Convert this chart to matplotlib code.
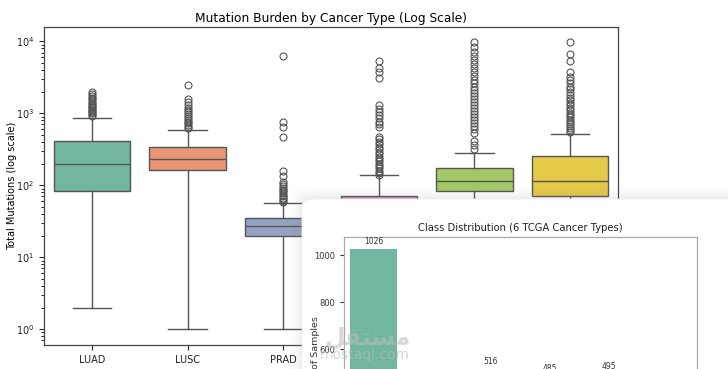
import colorsys

import numpy as np
import matplotlib
matplotlib.use("Agg")
import matplotlib.pyplot as plt
import matplotlib.colors as mcolors
from matplotlib.patches import FancyBboxPatch

# --- data ----------------------------------------------------------------
cancer_types = ["LUAD", "LUSC", "PRAD", "BRCA", "COAD", "UCEC"]
box_colors = ["#66c2a5", "#fc8d62", "#8da0cb", "#e78ac3", "#a6d854", "#ffd92f"]

whis_lo = [2, 1, 1, 1, 1, 1]
q1 = [83, 165, 20, 28, 84, 72]
median = [200, 230, 27, 45, 114, 114]
q3 = [410, 340, 35, 70, 172, 252]
whis_hi = [870, 590, 56, 138, 280, 515]

fliers = [
    [920, 960, 1000, 1040, 1080, 1120, 1170, 1220, 1280, 1340, 1400, 1480,
     1560, 1650, 1750, 1850, 1980],
    [620, 650, 690, 730, 770, 820, 870, 920, 980, 1050, 1120, 1200, 1300,
     1450, 1600, 2500],
    [58, 61, 64, 67, 70, 74, 78, 82, 87, 92, 98, 104, 110, 133, 157, 475,
     640, 770, 6200],
    [141, 150, 160, 172, 185, 200, 215, 232, 250, 270, 292, 315, 340, 370,
     400, 435, 475, 640, 700, 770, 850, 940, 1050, 1150, 1300, 3050, 3800,
     4200, 5400],
    [324, 360, 410, 540, 600, 660, 730, 800, 880, 970, 1070, 1180, 1300,
     1430, 1580, 1740, 1920, 2120, 2350, 2600, 2900, 3300, 3800, 4300, 4900,
     5500, 6300, 7200, 8300, 9700],
    [545, 580, 620, 660, 710, 760, 820, 880, 950, 1020, 1100, 1190, 1290,
     1400, 1520, 1650, 1800, 1960, 2150, 2350, 2600, 2900, 3250, 3700, 5300,
     6600, 9800],
]

class_names = ["BRCA", "COAD", "LUAD", "PRAD", "LUSC", "UCEC"]
class_counts = [1026, 460, 516, 485, 495, 438]
bar_colors = ["#66c2a5", "#fc8d62", "#8fd3c6", "#e78ac3", "#a6d854", "#ffd92f"]


def desaturate(color, prop=0.75):
    # seaborn-like default saturation for box faces
    r, g, b = mcolors.to_rgb(color)
    h, l, s = colorsys.rgb_to_hls(r, g, b)
    return colorsys.hls_to_rgb(h, l, s * prop)


fig = plt.figure(figsize=(7.28, 3.69), dpi=100)
fig.patch.set_facecolor("white")

# --- main chart: boxplots on a log scale ---------------------------------
ax = fig.add_axes([44 / 728, 1 - 345 / 369, 574 / 728, 318 / 369])
ax.set_zorder(0)

stats = []
for i in range(len(cancer_types)):
    stats.append(dict(med=median[i], q1=q1[i], q3=q3[i], whislo=whis_lo[i],
                      whishi=whis_hi[i], fliers=fliers[i], label=cancer_types[i]))

line_col = "#555555"
bp = ax.bxp(stats, positions=np.arange(len(stats)), widths=0.8,
            patch_artist=True, showfliers=True,
            boxprops=dict(edgecolor=line_col, linewidth=1.0),
            medianprops=dict(color=line_col, linewidth=1.0),
            whiskerprops=dict(color=line_col, linewidth=1.0),
            capprops=dict(color=line_col, linewidth=1.0),
            flierprops=dict(marker="o", markersize=5, markerfacecolor="none",
                            markeredgecolor=line_col, markeredgewidth=0.8))
for patch, c in zip(bp["boxes"], box_colors):
    patch.set_facecolor(desaturate(c))

# caps as wide as half the box (seaborn style)
for i, cap in enumerate(bp["caps"]):
    pos = i // 2
    cap.set_xdata([pos - 0.2, pos + 0.2])

ax.set_yscale("log")
ax.set_xlim(-0.5, len(stats) - 0.5)
ax.set_ylim(10 ** -0.22, 10 ** 4.2)
ax.set_xticks(np.arange(len(stats)))
ax.set_xticklabels(cancer_types)
ax.tick_params(labelsize=7, colors="#222222")
ax.set_title("Mutation Burden by Cancer Type (Log Scale)", fontsize=8.8, pad=3.5)
ax.set_ylabel("Total Mutations (log scale)", fontsize=7)
ax.yaxis.set_label_coords(-27 / 574, 0.5)
for sp in ax.spines.values():
    sp.set_color("#444444")
    sp.set_linewidth(0.9)

# --- overlaid screenshot card with the class distribution ----------------
card_x, card_y = 302 / 728, 1 - 199 / 369
card_w, card_h = 0.75, 0.8
for k, a in enumerate([0.02, 0.025, 0.03, 0.04]):
    grow = (4 - k) * 0.004
    shadow = FancyBboxPatch((card_x - grow, card_y - card_h),
                            card_w + 2 * grow, card_h + grow * 2,
                            boxstyle="round,pad=0,rounding_size=0.02",
                            transform=fig.transFigure, facecolor="#888888",
                            edgecolor="none", alpha=a, zorder=1)
    fig.patches.append(shadow)
card = FancyBboxPatch((card_x, card_y - card_h), card_w, card_h,
                      boxstyle="round,pad=0,rounding_size=0.018",
                      transform=fig.transFigure, facecolor="white",
                      edgecolor="#eeeeee", linewidth=0.6, zorder=1.5)
fig.patches.append(card)

ax2 = fig.add_axes([344 / 728, 1 - 490 / 369, 353 / 728, 253 / 369])
ax2.set_zorder(2)
xpos = np.arange(len(class_names))
bars = ax2.bar(xpos, class_counts, width=0.8,
               color=[desaturate(c) for c in bar_colors])
for x, v in zip(xpos, class_counts):
    ax2.text(x, v + 12, str(v), ha="center", va="bottom", fontsize=5.5,
             color="#333333")
ax2.set_xlim(-0.5, len(class_names) - 0.5)
ax2.set_ylim(0, 1026 * 1.05)
ax2.set_yticks([0, 200, 400, 600, 800, 1000])
ax2.set_xticks(xpos)
ax2.set_xticklabels(class_names)
ax2.tick_params(labelsize=6, colors="#333333", length=3)
ax2.set_title("Class Distribution (6 TCGA Cancer Types)", fontsize=7.2, pad=4,
              color="#222222")
ax2.set_ylabel("Number of Samples", fontsize=6.8, color="#333333")
ax2.yaxis.set_label_coords(-24 / 353, 0.5)
for sp in ax2.spines.values():
    sp.set_color("#aaaaaa")
    sp.set_linewidth(0.9)

# --- watermark ------------------------------------------------------------
fig.text(368 / 728, 1 - 338 / 369, "\ufede\ufed8\ufe98\ufeb4\ufee3",
         fontsize=17, fontweight="bold", color="#bbbbbb", alpha=0.55,
         ha="center", va="center", zorder=5, family=["DejaVu Sans"])
fig.text(365 / 728, 1 - 355 / 369, "mostaql.com", fontsize=10,
         color="#bbbbbb", alpha=0.6, ha="center", va="center", zorder=5)

fig.savefig("out.png", dpi=100)
